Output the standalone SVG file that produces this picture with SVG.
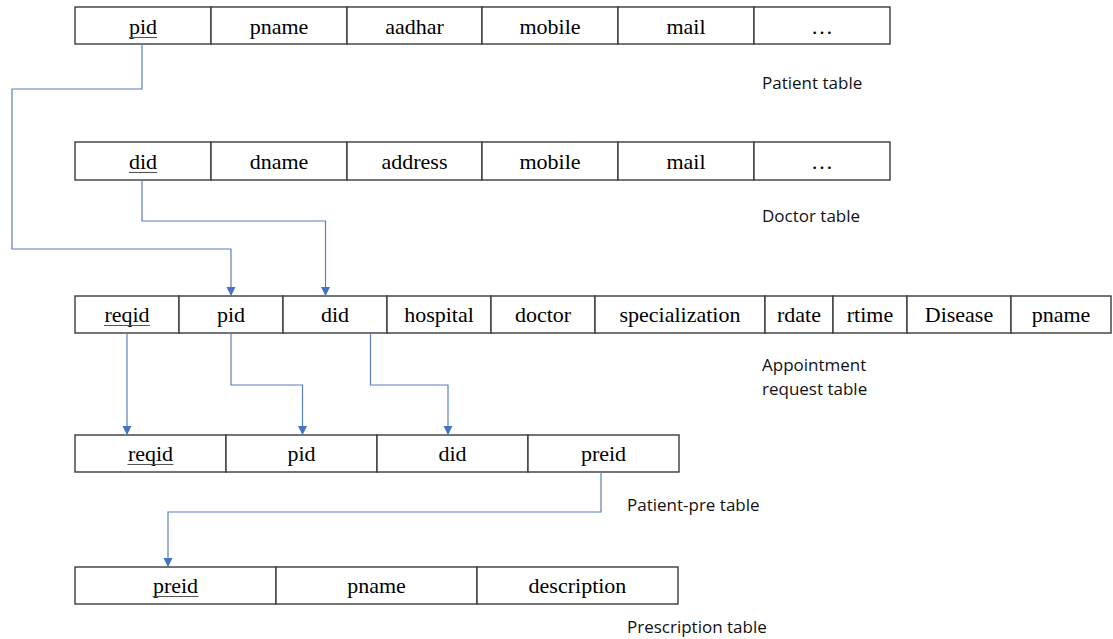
<svg xmlns="http://www.w3.org/2000/svg" width="1113" height="639" viewBox="0 0 1113 639">
<defs>
<style>
.cell{fill:#fff;stroke:#3a3a3a;stroke-width:1.4}
.t{font-family:"Liberation Serif","Times New Roman",serif;font-size:22px;fill:#000;text-anchor:middle}
.ul{stroke:#555;stroke-width:1.1}
.lbl{font-family:"Open Sans","Noto Sans",sans-serif;font-size:17px;fill:#111}
.con{fill:none;stroke:#5a80bd;stroke-width:1.2}
</style>
<marker id="arr" markerUnits="userSpaceOnUse" markerWidth="9" markerHeight="10" viewBox="0 0 9 10" refX="9" refY="5" orient="auto">
<path d="M0,0.5 L9,5 L0,9.5 z" fill="#4472c4"/>
</marker>
</defs>
<rect width="1113" height="639" fill="#fff"/>

<g id="patient-table">
<rect class="cell" x="75" y="7" width="136" height="37"/>
<rect class="cell" x="211" y="7" width="136" height="37"/>
<rect class="cell" x="347" y="7" width="135" height="37"/>
<rect class="cell" x="482" y="7" width="136" height="37"/>
<rect class="cell" x="618" y="7" width="136" height="37"/>
<rect class="cell" x="754" y="7" width="136" height="37"/>
<text class="t" x="143" y="34">pid</text>
<line class="ul" x1="129" y1="37.5" x2="157" y2="37.5"/>
<text class="t" x="279" y="34">pname</text>
<text class="t" x="414.5" y="34">aadhar</text>
<text class="t" x="550" y="34">mobile</text>
<text class="t" x="686" y="34">mail</text>
<text class="t" x="822" y="34">…</text>
<text class="lbl" x="762" y="89">Patient table</text>
</g>

<g id="doctor-table">
<rect class="cell" x="75" y="142" width="136" height="38"/>
<rect class="cell" x="211" y="142" width="136" height="38"/>
<rect class="cell" x="347" y="142" width="135" height="38"/>
<rect class="cell" x="482" y="142" width="136" height="38"/>
<rect class="cell" x="618" y="142" width="136" height="38"/>
<rect class="cell" x="754" y="142" width="136" height="38"/>
<text class="t" x="143" y="169">did</text>
<line class="ul" x1="129" y1="172.5" x2="157" y2="172.5"/>
<text class="t" x="279" y="169">dname</text>
<text class="t" x="414.5" y="169">address</text>
<text class="t" x="550" y="169">mobile</text>
<text class="t" x="686" y="169">mail</text>
<text class="t" x="822" y="169">…</text>
<text class="lbl" x="762" y="222">Doctor table</text>
</g>

<g id="appointment-table">
<rect class="cell" x="75" y="296" width="104" height="37"/>
<rect class="cell" x="179" y="296" width="104" height="37"/>
<rect class="cell" x="283" y="296" width="104" height="37"/>
<rect class="cell" x="387" y="296" width="104" height="37"/>
<rect class="cell" x="491" y="296" width="104" height="37"/>
<rect class="cell" x="595" y="296" width="170" height="37"/>
<rect class="cell" x="765" y="296" width="68" height="37"/>
<rect class="cell" x="833" y="296" width="74" height="37"/>
<rect class="cell" x="907" y="296" width="104" height="37"/>
<rect class="cell" x="1011" y="296" width="100" height="37"/>
<text class="t" x="127" y="322">reqid</text>
<line class="ul" x1="104" y1="325.5" x2="150" y2="325.5"/>
<text class="t" x="231" y="322">pid</text>
<text class="t" x="335" y="322">did</text>
<text class="t" x="439" y="322">hospital</text>
<text class="t" x="543" y="322">doctor</text>
<text class="t" x="680" y="322">specialization</text>
<text class="t" x="799" y="322">rdate</text>
<text class="t" x="870" y="322">rtime</text>
<text class="t" x="959" y="322">Disease</text>
<text class="t" x="1061" y="322">pname</text>
<text class="lbl" x="762" y="371">Appointment</text>
<text class="lbl" x="762" y="395">request table</text>
</g>

<g id="patient-pre-table">
<rect class="cell" x="75" y="435" width="151" height="37"/>
<rect class="cell" x="226" y="435" width="151" height="37"/>
<rect class="cell" x="377" y="435" width="151" height="37"/>
<rect class="cell" x="528" y="435" width="151" height="37"/>
<text class="t" x="150.5" y="461">reqid</text>
<line class="ul" x1="127.5" y1="464.5" x2="173.5" y2="464.5"/>
<text class="t" x="301.5" y="461">pid</text>
<text class="t" x="452.5" y="461">did</text>
<text class="t" x="603.5" y="461">preid</text>
<text class="lbl" x="627" y="511">Patient-pre table</text>
</g>

<g id="prescription-table">
<rect class="cell" x="75" y="567" width="201" height="37"/>
<rect class="cell" x="276" y="567" width="201" height="37"/>
<rect class="cell" x="477" y="567" width="201" height="37"/>
<text class="t" x="175.5" y="593">preid</text>
<line class="ul" x1="152.5" y1="596.5" x2="198.5" y2="596.5"/>
<text class="t" x="376.5" y="593">pname</text>
<text class="t" x="577.5" y="593">description</text>
<text class="lbl" x="627" y="633">Prescription table</text>
</g>

<g id="connectors">
<path class="con" d="M142,44 V89 H12 V249 H231 V296" marker-end="url(#arr)"/>
<path class="con" d="M142,180 V221 H325.5 V296" marker-end="url(#arr)"/>
<path class="con" d="M127,333 V435" marker-end="url(#arr)"/>
<path class="con" d="M231,333 V385 H302.5 V435" marker-end="url(#arr)"/>
<path class="con" d="M370.5,333 V385 H448 V435" marker-end="url(#arr)"/>
<path class="con" d="M601,472 V512 H168 V567" marker-end="url(#arr)"/>
</g>
</svg>
